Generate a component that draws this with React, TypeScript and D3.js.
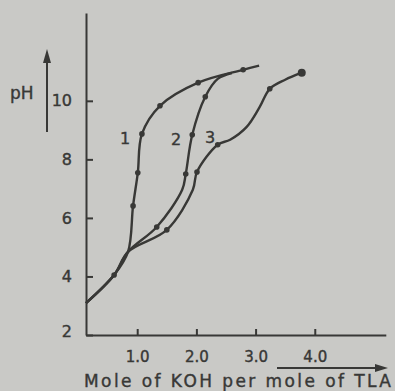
import React, { useEffect, useRef } from "react";
import { axisBottom, axisLeft, curveCatmullRom, line, scaleLinear, select } from "d3";

// x: mole of KOH per mole of TLA, y: pH
const xTicks = [1, 2, 3, 4];
const xTickLabels = ["1.0", "2.0", "3.0", "4.0"];
const yTicks = [2, 4, 6, 8, 10];

const curve1: [number, number][] = [
  [0.135, 3.09], [0.61, 4.05], [0.845, 4.84], [0.93, 6.41], [1.01, 7.54],
  [1.08, 8.87], [1.385, 9.83], [2.03, 10.62], [2.79, 11.06], [3.06, 11.2],
];
const curve2: [number, number][] = [
  [0.135, 3.09], [0.61, 4.05], [0.845, 4.84], [1.33, 5.69], [1.76, 6.96],
  [1.82, 7.5], [1.93, 8.84], [2.15, 10.14], [2.36, 10.75], [2.6, 10.95],
];
const curve3: [number, number][] = [
  [0.135, 3.09], [0.61, 4.05], [0.845, 4.84], [1.5, 5.59], [1.94, 6.96],
  [2.01, 7.57], [2.36, 8.5], [2.57, 8.67], [2.85, 9.11], [3.07, 9.79],
  [3.24, 10.41], [3.5, 10.72], [3.78, 10.96],
];

const dots1: [number, number][] = [
  [0.61, 4.05], [0.93, 6.41], [1.01, 7.54], [1.08, 8.87], [1.385, 9.83], [2.03, 10.62], [2.79, 11.06],
];
const dots2: [number, number][] = [[1.33, 5.69], [1.82, 7.5], [1.93, 8.84], [2.15, 10.14]];
const dots3: [number, number][] = [[1.5, 5.59], [2.01, 7.57], [2.36, 8.5], [3.24, 10.41]];
const endDots: [number, number][] = [[3.78, 10.96]];

const ink = "#383836";
const font = "'DejaVu Sans', Verdana, sans-serif";

const App = () => {
  const width = 395;
  const height = 391;
  const xAxisRef = useRef<SVGGElement>(null);
  const yAxisRef = useRef<SVGGElement>(null);

  const x = scaleLinear().domain([0.135, 5.2]).range([86, 385.8]);
  const y = scaleLinear().domain([2, 13]).range([335, 13]);

  const path = line<[number, number]>()
    .x((d) => x(d[0]))
    .y((d) => y(d[1]))
    .curve(curveCatmullRom.alpha(0.5));

  useEffect(() => {
    select(xAxisRef.current)
      .call(
        axisBottom(x)
          .tickValues(xTicks)
          .tickFormat((d, i) => xTickLabels[i])
          .tickSizeInner(-6)
          .tickSizeOuter(0)
          .tickPadding(16)
      )
      .call((g) => g.selectAll("path, line").attr("stroke", ink).attr("stroke-width", 2))
      .call((g) =>
        g
          .selectAll("text")
          .attr("fill", ink)
          .attr("stroke", ink)
          .attr("stroke-width", 0.4)
          .style("font-family", font)
          .style("font-size", "15px")
      );

    select(yAxisRef.current)
      .call(axisLeft(y).tickValues(yTicks).tickSizeInner(-7).tickSizeOuter(0).tickPadding(14))
      .call((g) => g.selectAll("path, line").attr("stroke", ink).attr("stroke-width", 2))
      .call((g) =>
        g
          .selectAll("text")
          .attr("fill", ink)
          .attr("stroke", ink)
          .attr("stroke-width", 0.4)
          .style("font-family", font)
          .style("font-size", "16px")
      )
      .call((g) => g.selectAll(".tick").filter((d) => d === 2).select("text").attr("dy", "0.1em"));
  }, []);

  const textStyle = { fontFamily: font, fontSize: 16 };

  return (
    <svg
      width={width}
      height={height}
      style={{ position: "absolute", left: 0, top: 0, background: "#c9c9c6" }}
    >
      <rect width={width} height={height} fill="#c9c9c6" />
      <g ref={xAxisRef} transform="translate(0,335)" />
      <g ref={yAxisRef} transform="translate(86,0)" />

      {[curve1, curve2, curve3].map((c, i) => (
        <path key={i} d={path(c) ?? ""} fill="none" stroke={ink} strokeWidth={2.4} />
      ))}
      {[...dots1, ...dots2, ...dots3].map((d, i) => (
        <circle key={i} cx={x(d[0])} cy={y(d[1])} r={2.8} fill={ink} />
      ))}
      {endDots.map((d, i) => (
        <circle key={i} cx={x(d[0])} cy={y(d[1])} r={4} fill={ink} />
      ))}

      <g fill={ink} stroke={ink} strokeWidth={0.4} style={textStyle} textAnchor="middle">
        <text x={125} y={144}>1</text>
        <text x={176} y={145}>2</text>
        <text x={210} y={143}>3</text>
      </g>

      {/* pH label with upward arrow */}
      <text x={10} y={99} fill={ink} stroke={ink} strokeWidth={0.4} style={{ ...textStyle, fontSize: 17 }}>
        pH
      </text>
      <line x1={47} y1={132} x2={47} y2={60} stroke={ink} strokeWidth={2} />
      <path d="M47,49 L51,63 L43,63 Z" fill={ink} />

      {/* x label with arrow */}
      <line x1={277} y1={368} x2={378} y2={368} stroke={ink} strokeWidth={2} />
      <path d="M388,368 L375,364 L375,372 Z" fill={ink} />
      <text
        x={84}
        y={387}
        fill={ink}
        stroke={ink}
        strokeWidth={0.4}
        style={{ ...textStyle, fontSize: 17 }}
        textLength={307}
        lengthAdjust="spacing"
      >
        Mole of KOH per mole of TLA
      </text>
    </svg>
  );
};

export default App;
